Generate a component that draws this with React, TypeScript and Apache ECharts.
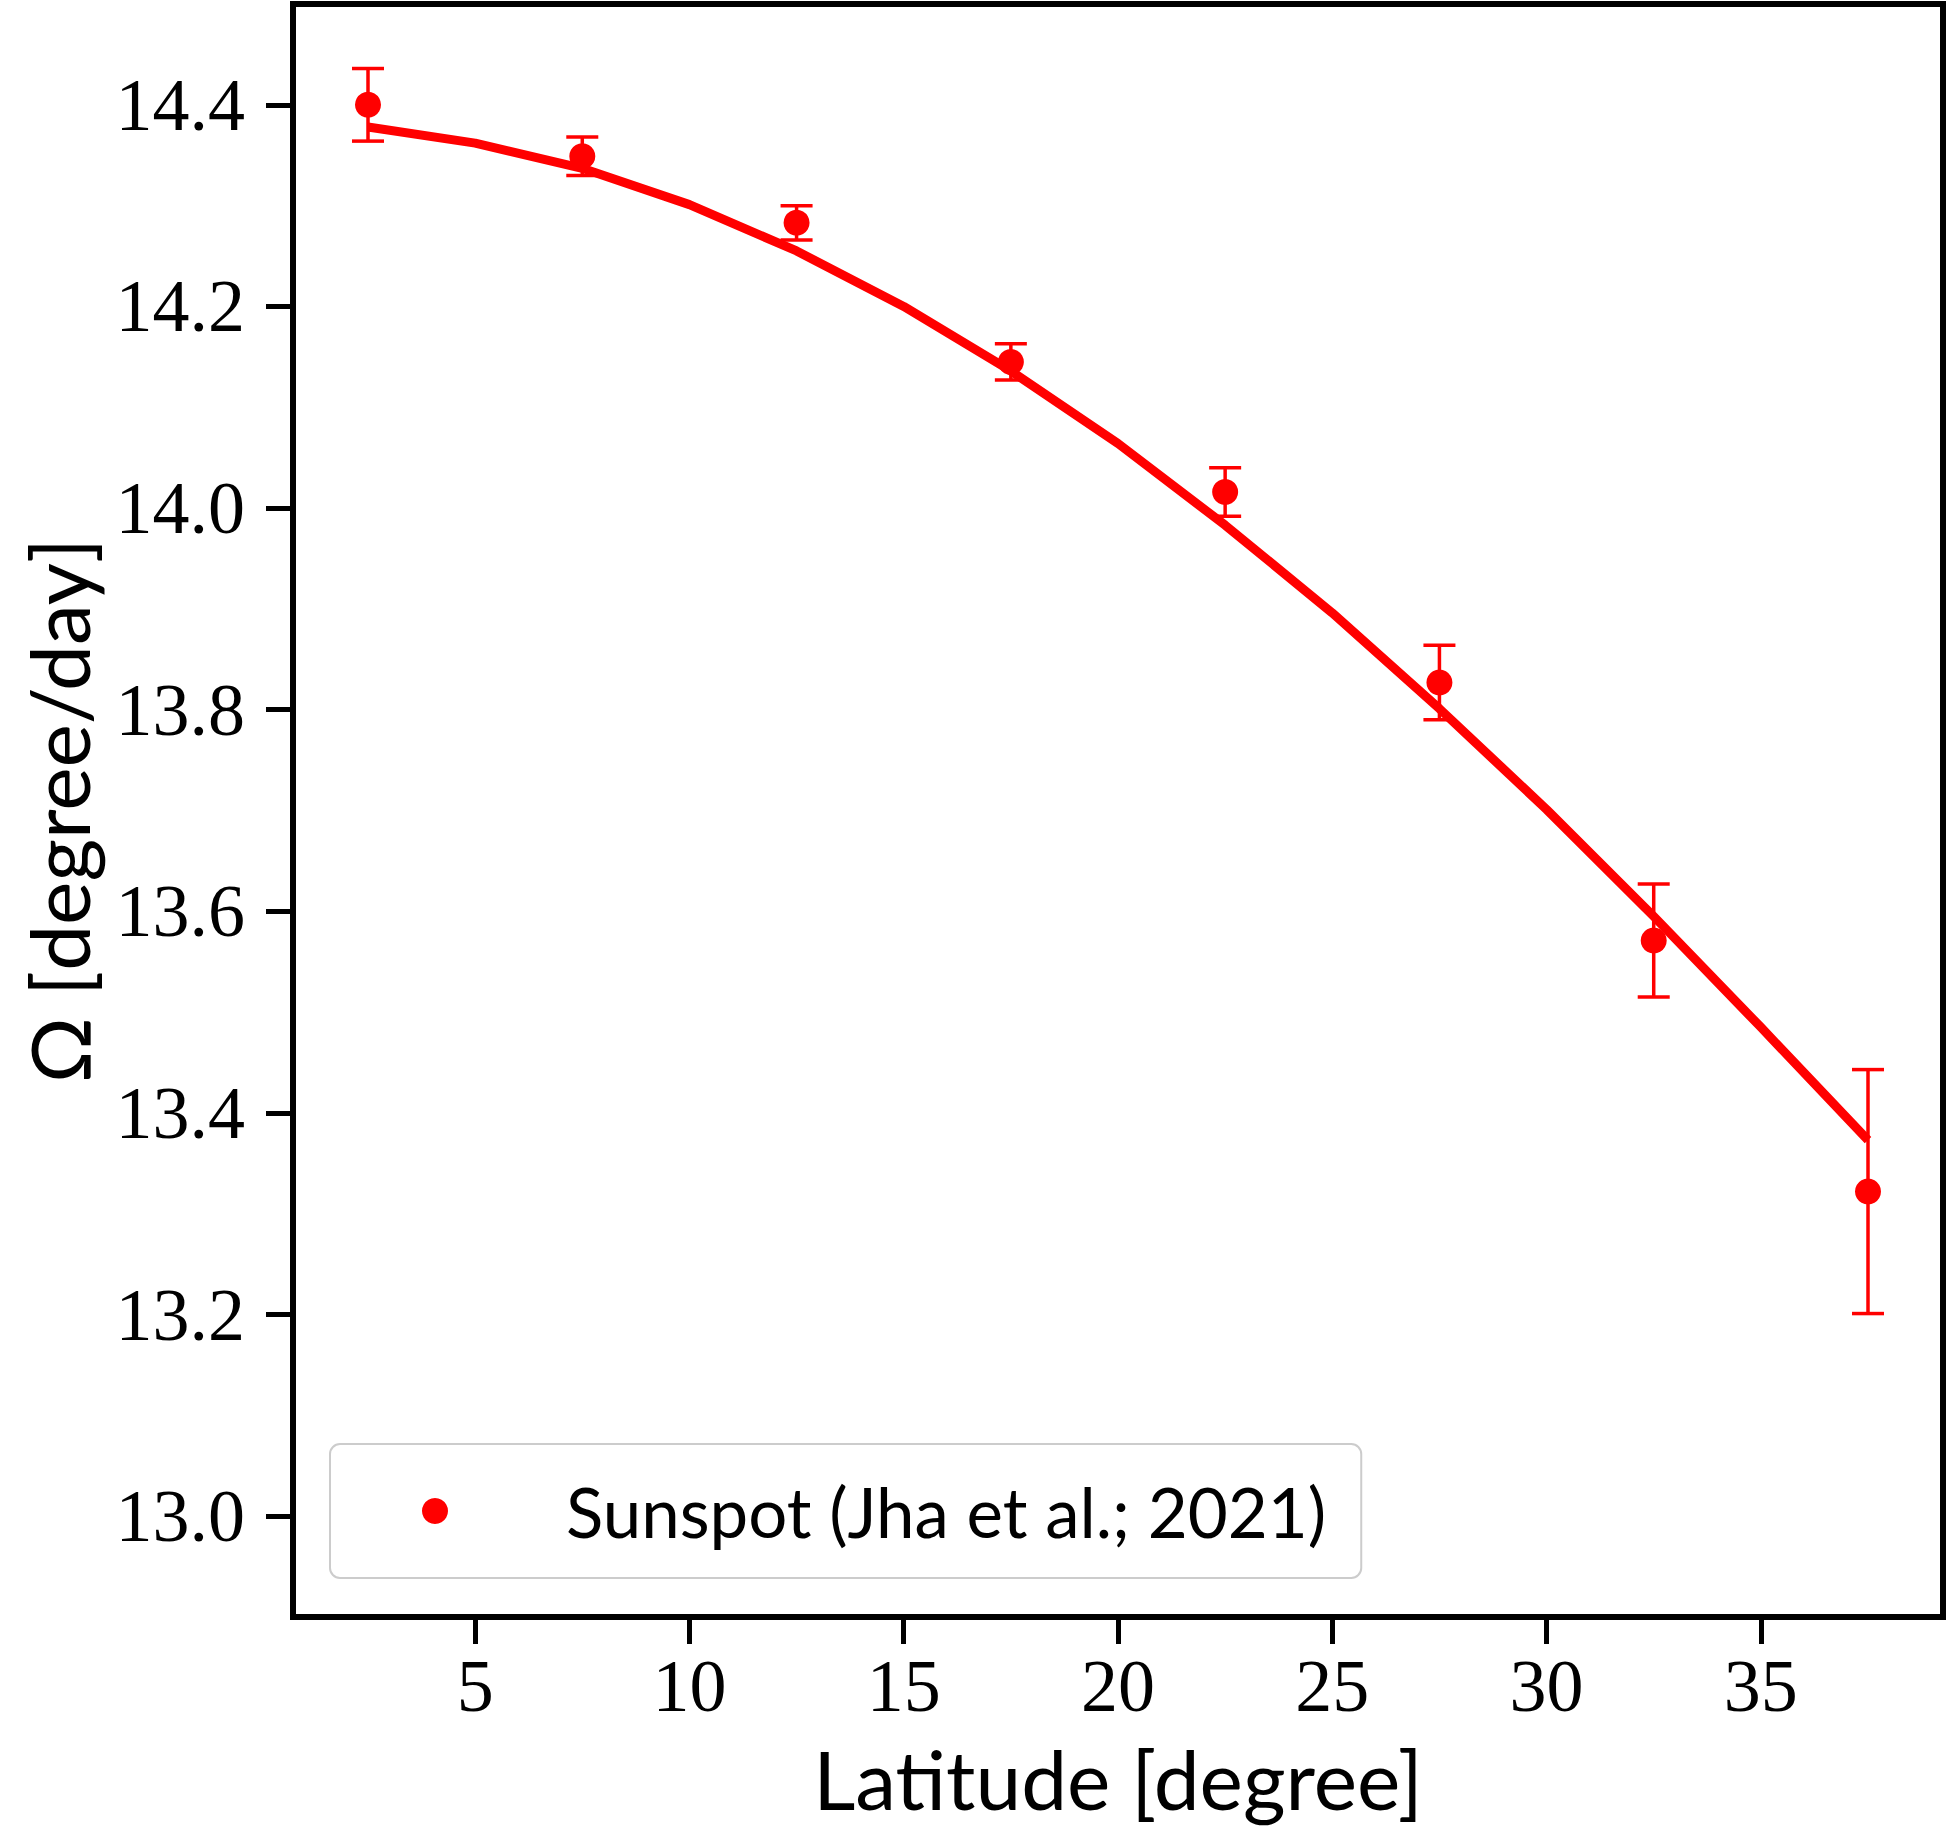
import React, { useEffect, useRef } from "react";
import * as echarts from "echarts";

const latitudes = [2.5, 7.5, 12.5, 17.5, 22.5, 27.5, 32.5, 37.5];
const omegaValues = [14.4, 14.349, 14.283, 14.145, 14.016, 13.827, 13.571, 13.322];
const omegaErrors = [0.036, 0.019, 0.017, 0.018, 0.024, 0.037, 0.056, 0.121];

// Fitted curve at these latitudes
const fitLatitudes = [2.5, 5, 7.5, 10, 12.5, 15, 17.5, 20, 22.5, 25, 27.5, 30, 32.5, 35, 37.5];
const fitOmega = [14.378, 14.362, 14.337, 14.301, 14.255, 14.2, 14.136, 14.064, 13.983, 13.896, 13.801, 13.701, 13.595, 13.485, 13.373];

const xTicks = [5, 10, 15, 20, 25, 30, 35];
const yTicks = [13.0, 13.2, 13.4, 13.6, 13.8, 14.0, 14.2, 14.4];

const seriesName = "Sunspot (Jha et al.; 2021)";
const xName = "Latitude [degree]";
const yName = "Ω [degree/day]";

const RED = "#ff0000";

export default function App() {
  const ref = useRef<HTMLDivElement>(null);

  useEffect(() => {
    if (!ref.current) return;
    const chart = echarts.init(ref.current, undefined, { renderer: "svg" });

    const errData = latitudes.map((x, i) => [x, omegaValues[i] - omegaErrors[i], omegaValues[i] + omegaErrors[i]]);
    const pointData = latitudes.map((x, i) => [x, omegaValues[i]]);
    const fitData = fitLatitudes.map((x, i) => [x, fitOmega[i]]);

    chart.setOption({
      animation: false,
      backgroundColor: "#ffffff",
      grid: {
        left: 293,
        top: 4,
        right: 4,
        bottom: 210,
        show: true,
        borderColor: "#000000",
        borderWidth: 6,
        backgroundColor: "transparent",
      },
      legend: {
        data: [{ name: seriesName, icon: "circle" }],
        left: 330,
        top: 1444,
        selectedMode: false,
        itemWidth: 26,
        itemHeight: 26,
        padding: [27, 35, 27, 92],
        borderColor: "#cccccc",
        borderWidth: 2,
        borderRadius: 10,
        backgroundColor: "#ffffff",
        itemStyle: { opacity: 1 },
        textStyle: {
          fontFamily: "Lato",
          fontSize: 69,
          color: "#000000",
          lineHeight: 80,
          padding: [0, 0, 0, 113],
        },
      },
      xAxis: {
        type: "value",
        min: 0.75,
        max: 39.25,
        name: xName,
        nameLocation: "middle",
        nameGap: 120,
        nameTextStyle: { fontFamily: "Lato", fontSize: 82, color: "#000000" },
        axisLine: { show: false },
        splitLine: { show: false },
        axisTick: {
          show: true,
          length: 27,
          lineStyle: { color: "#000000", width: 5 },
          customValues: xTicks,
        },
        axisLabel: {
          fontFamily: "Liberation Serif",
          fontSize: 74,
          color: "#000000",
          margin: 32,
          customValues: xTicks,
          formatter: (v: number) => String(v),
        },
      },
      yAxis: {
        type: "value",
        min: 12.9,
        max: 14.5,
        name: yName,
        nameLocation: "middle",
        nameGap: 194,
        nameTextStyle: { fontFamily: "Lato", fontSize: 82, color: "#000000" },
        axisLine: { show: false },
        splitLine: { show: false },
        axisTick: {
          show: true,
          length: 27,
          lineStyle: { color: "#000000", width: 5 },
          customValues: yTicks,
        },
        axisLabel: {
          fontFamily: "Liberation Serif",
          fontSize: 74,
          color: "#000000",
          margin: 48,
          customValues: yTicks,
          formatter: (v: number) => v.toFixed(1),
        },
      },
      series: [
        {
          name: "fit",
          type: "line",
          data: fitData,
          smooth: false,
          showSymbol: false,
          lineStyle: { color: RED, width: 9, join: "round" },
          z: 2,
        },
        {
          name: "errors",
          type: "custom",
          data: errData,
          encode: { x: 0, y: [1, 2] },
          z: 3,
          renderItem: (_params: any, api: any) => {
            const x = api.value(0);
            const lo = api.coord([x, api.value(1)]);
            const hi = api.coord([x, api.value(2)]);
            const cap = 16;
            const style = { stroke: RED, lineWidth: 3.5 };
            return {
              type: "group",
              children: [
                { type: "line", shape: { x1: lo[0], y1: lo[1], x2: hi[0], y2: hi[1] }, style },
                { type: "line", shape: { x1: lo[0] - cap, y1: lo[1], x2: lo[0] + cap, y2: lo[1] }, style },
                { type: "line", shape: { x1: hi[0] - cap, y1: hi[1], x2: hi[0] + cap, y2: hi[1] }, style },
              ],
            };
          },
        },
        {
          name: seriesName,
          type: "scatter",
          data: pointData,
          symbol: "circle",
          symbolSize: 26,
          itemStyle: { color: RED, opacity: 1 },
          z: 4,
        },
      ],
    });

    return () => chart.dispose();
  }, []);

  return (
    <div
      ref={ref}
      style={{ position: "absolute", left: 0, top: 0, width: 1947, height: 1827 }}
    />
  );
}
